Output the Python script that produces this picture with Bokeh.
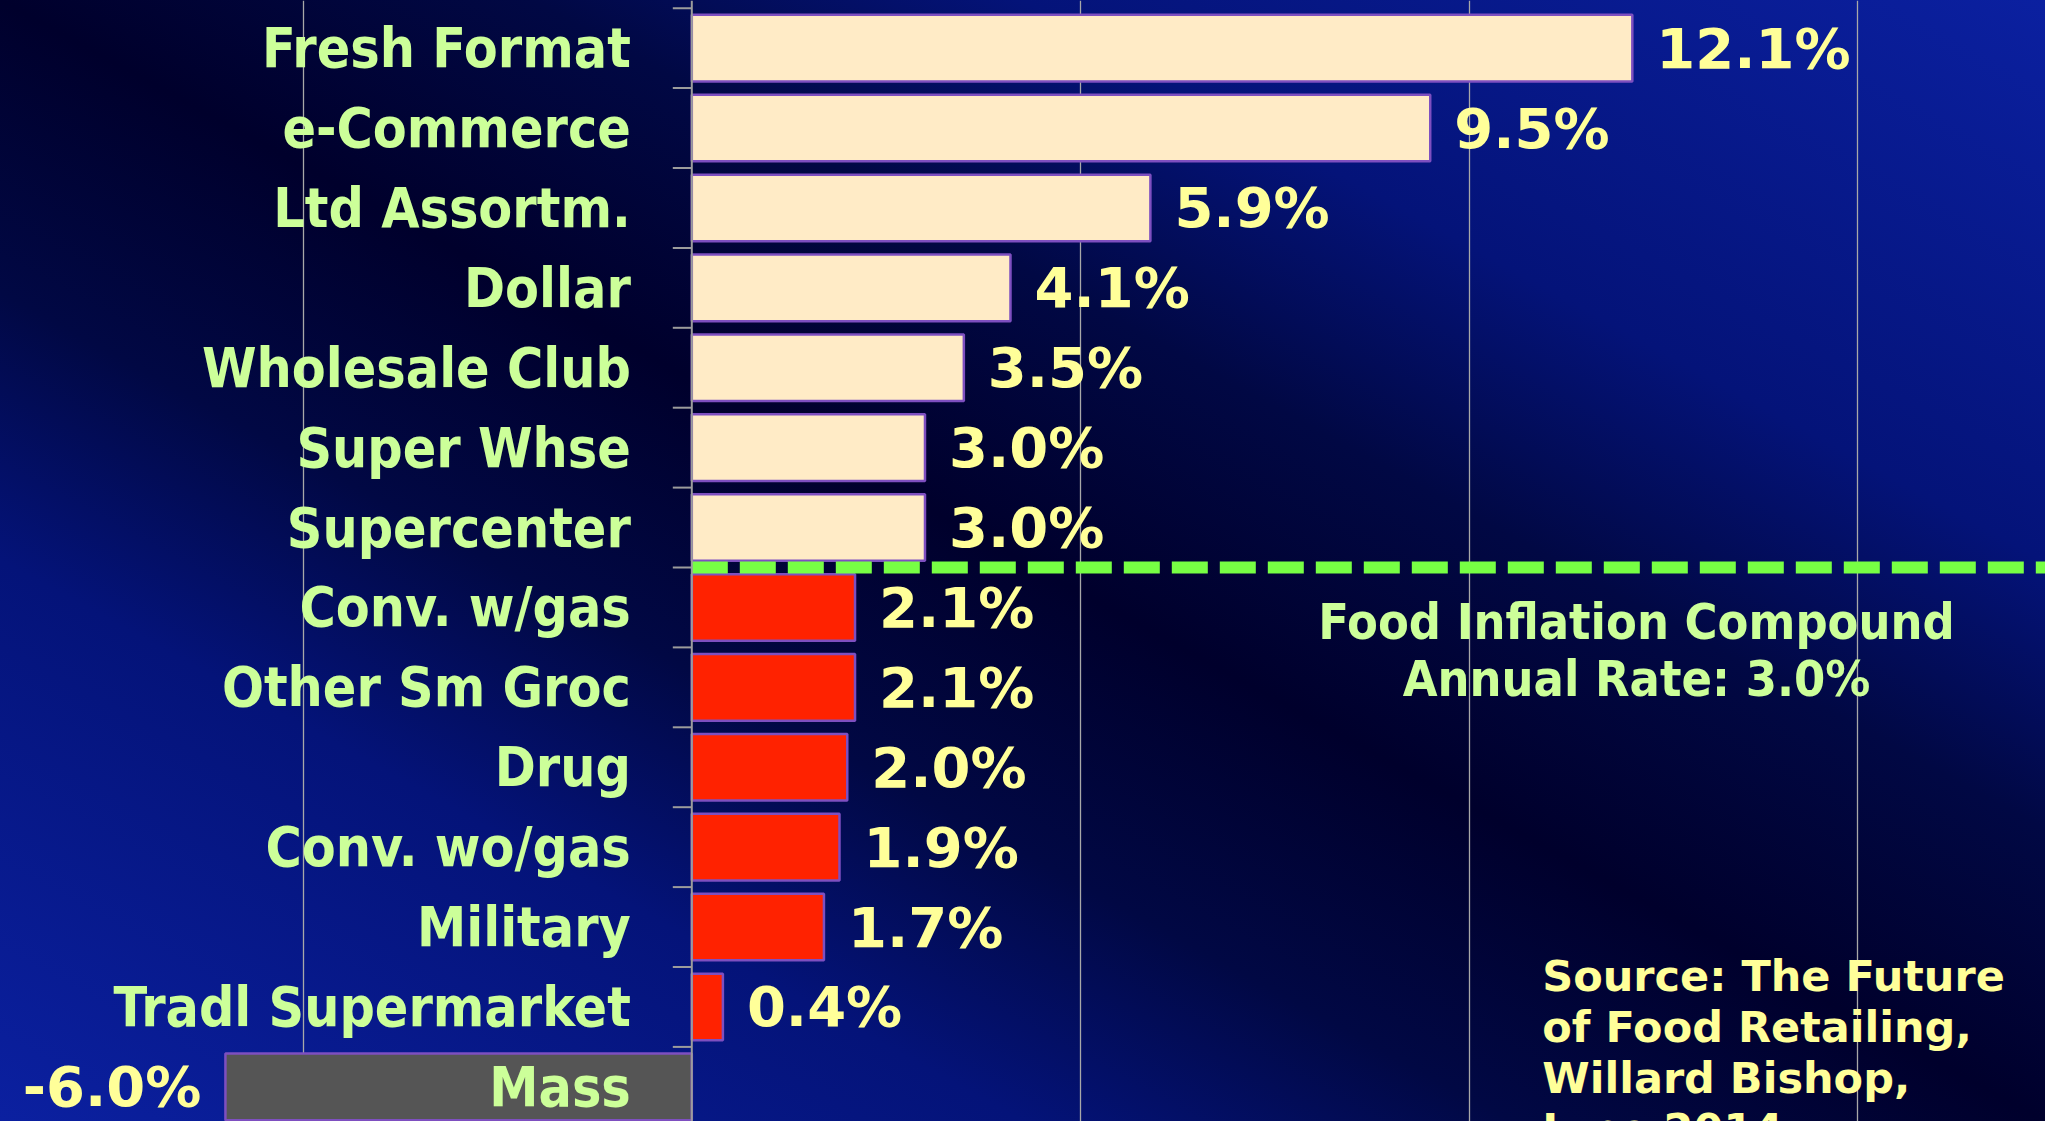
import numpy as np
from bokeh.plotting import figure
from bokeh.models import Range1d, Span, Grid, FixedTicker, ColumnDataSource
from bokeh.core.properties import value
from bokeh.embed import file_html
from bokeh.resources import INLINE

# ---------------- data ----------------
categories = ["Fresh Format", "e-Commerce", "Ltd Assortm.", "Dollar", "Wholesale Club",
              "Super Whse", "Supercenter", "Conv. w/gas", "Other Sm Groc", "Drug",
              "Conv. wo/gas", "Military", "Tradl Supermarket", "Mass"]
growth = [12.1, 9.5, 5.9, 4.1, 3.5, 3.0, 3.0, 2.1, 2.1, 2.0, 1.9, 1.7, 0.4, -6.0]
food_inflation = 3.0
grid_ticks = [-5, 5, 10, 15]
annotation_lines = ["Food Inflation Compound", "Annual Rate: 3.0%"]
source_lines = ["Source: The Future", "of Food Retailing,", "Willard Bishop,", "June 2014"]

# ---------------- layout / styling ----------------
W, H = 2045, 1121
PX_PER_UNIT_X = 77.73
PX_PER_CAT = 79.9
x_start = -691.3 / PX_PER_UNIT_X
x_end = x_start + W / PX_PER_UNIT_X
y_top = 13.5 + 7.7 / PX_PER_CAT
y_bottom = y_top - H / PX_PER_CAT

CREAM, RED, GRAY = "#ffebc6", "#ff2200", "#555555"
BORDER = "#7e4fc0"
LABEL_GREEN = "#ccff99"
VALUE_YELLOW = "#ffff99"
AXIS_GRAY = "#9c9c9c"
GRADIENT = ("linear-gradient(to top right, #0b20a0 0%, #041379 25%, #010844 37%, "
            "#00002c 50%, #010844 63%, #041379 75%, #0b20a0 100%)")

n = len(categories)
ypos = [n - 1 - i for i in range(n)]
colors = [CREAM if g >= food_inflation else (RED if g >= 0 else GRAY) for g in growth]
labels = [f"{g:.1f}%" for g in growth]

src = ColumnDataSource(dict(cat=categories, g=growth, y=ypos, color=colors, lab=labels))
pos = ColumnDataSource(dict(g=[g for g in growth if g >= 0],
                            y=[y for g, y in zip(growth, ypos) if g >= 0],
                            lab=[l for g, l in zip(growth, labels) if g >= 0]))
neg = ColumnDataSource(dict(g=[g for g in growth if g < 0],
                            y=[y for g, y in zip(growth, ypos) if g < 0],
                            lab=[l for g, l in zip(growth, labels) if g < 0]))

p = figure(width=W, height=H, output_backend="svg", toolbar_location=None,
           x_axis_location=None, y_axis_location=None,
           x_range=Range1d(x_start, x_end), y_range=Range1d(y_bottom, y_top),
           min_border=0, tools="")
p.outline_line_color = None
p.background_fill_alpha = 0
p.border_fill_alpha = 0
p.styles = {"background": GRADIENT}
for r in list(p.center):
    if isinstance(r, Grid):
        r.visible = False

grid = Grid(dimension=0, ticker=FixedTicker(ticks=grid_ticks),
            grid_line_color="#a8a8a8", grid_line_width=1.3)
p.add_layout(grid)

# bars
p.hbar(y="y", left=0, right="g", height=0.834, source=src,
       fill_color="color", line_color=BORDER, line_width=2.5)

# threshold dashed line between channels above / below food inflation
last_above = max(i for i, g in enumerate(growth) if g >= food_inflation)
thr_y = ypos[last_above] - 0.5
p.segment(x0=0, y0=thr_y, x1=x_end, y1=thr_y, line_color="#77ff44",
          line_width=12, line_dash="36 12", line_cap="butt")

# axis line and ticks at the category boundaries
p.add_layout(Span(location=0, dimension="height", line_color=AXIS_GRAY, line_width=2))
bounds = [y + 0.5 for y in ypos]
p.ray(x=[0] * len(bounds), y=bounds, length=19, length_units="screen", angle=np.pi,
      line_color=AXIS_GRAY, line_width=2)

# category labels
p.text(x=0, y="y", text="cat", source=src, x_offset=-61, text_align="right",
       text_baseline="middle", text_font=value("DejaVu Sans Condensed"),
       text_font_style="bold", text_font_size="55px", text_color=LABEL_GREEN)

# value labels
p.text(x="g", y="y", text="lab", source=pos, x_offset=24, text_align="left",
       text_baseline="middle", text_font=value("DejaVu Sans"),
       text_font_style="bold", text_font_size="56px", text_color=VALUE_YELLOW)
p.text(x="g", y="y", text="lab", source=neg, x_offset=-24, text_align="right",
       text_baseline="middle", text_font=value("DejaVu Sans"),
       text_font_style="bold", text_font_size="56px", text_color=VALUE_YELLOW)

# inflation annotation
p.text(x=[12.154, 12.154], y=[5.824, 5.110], text=annotation_lines,
       text_align="center", text_baseline="middle",
       text_font=value("DejaVu Sans Condensed"), text_font_style="bold",
       text_font_size="50px", text_color=LABEL_GREEN)

# source note
p.text(x=[10.941] * 4, y=[1.387, 0.755, 0.117, -0.522], text=source_lines,
       text_align="left", text_baseline="middle",
       text_font=value("DejaVu Sans"), text_font_style="bold",
       text_font_size="43px", text_color=VALUE_YELLOW)

html = file_html(p, INLINE, title="Food retail channel growth")
html = html.replace("<body>", "<body style=\"background:" + GRADIENT + " fixed;\">", 1)
open("out.html", "w").write(html)
